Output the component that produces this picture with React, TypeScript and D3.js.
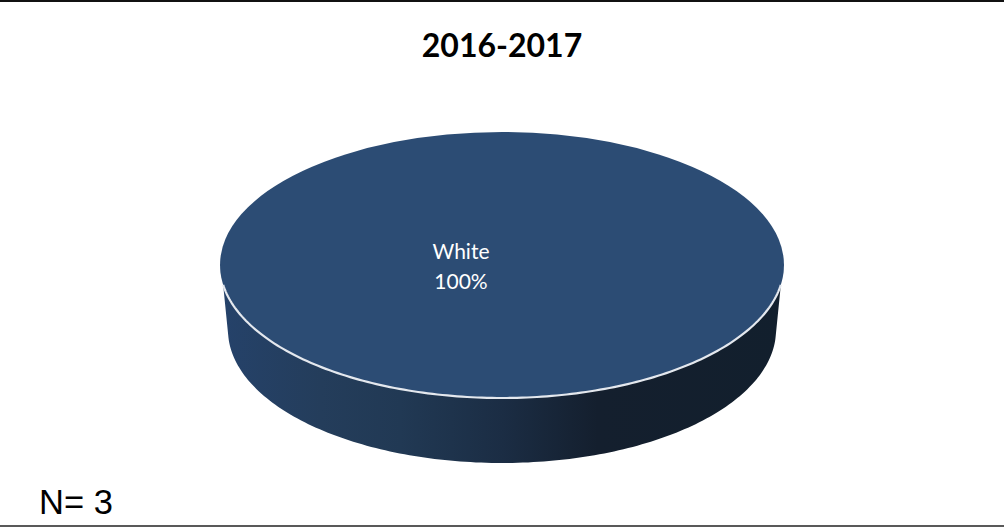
import React from "react";
import * as d3 from "d3";

const categories = ["White"];
const values = [100];
const percentLabels = ["100%"];
const titleText = "2016-2017";
const noteText = "N= 3";
const sideStops = [
  { at: 0, color: "#25426a" },
  { at: 0.18, color: "#243d5b" },
  { at: 0.32, color: "#213954" },
  { at: 0.5, color: "#1b2d44" },
  { at: 0.67, color: "#141f2e" },
  { at: 1, color: "#121f2d" },
];

const W = 1004;
const H = 528;
const CX = 502;
const TOP_CY = 265;
const BOT_CY = 330;
const RX = 282;
const RX_BOT = 274;
const RY = 133;

export default function App() {
  const slices = d3.pie<number>().sort(null)(values);
  // unit-radius pie arc, squashed to the tilted ellipse
  const arc = d3.arc<d3.PieArcDatum<number>>().innerRadius(0).outerRadius(1);
  const topPath = arc(slices[0]) ?? "";

  // front wall of the disc: the visible lower half between both ellipses
  const x = d3.scaleLinear().domain([-1, 1]).range([CX - RX, CX + RX]);
  const y = d3.scaleLinear().domain([-1, 1]).range([TOP_CY - RY, TOP_CY + RY]);
  const xb = d3.scaleLinear().domain([-1, 1]).range([CX - RX_BOT, CX + RX_BOT]);
  const yb = d3.scaleLinear().domain([-1, 1]).range([BOT_CY - RY, BOT_CY + RY]);
  const line = d3.line<[number, number]>();
  const start = 0.15;
  const end = Math.PI - 0.15;
  const rimAngles = d3.range(start, end + 0.001, (end - start) / 160);
  const topEdge: [number, number][] = rimAngles.map((a) => [x(Math.cos(a)), y(Math.sin(a))]);
  const botAngles = d3.range(0.04, Math.PI - 0.04 + 0.001, (Math.PI - 0.08) / 160);
  const botEdge: [number, number][] = botAngles.slice().reverse().map((a) => [xb(Math.cos(a)), yb(Math.sin(a))]);
  const sidePath = line([...topEdge, ...botEdge]) + "Z";
  const rimPath = line(topEdge) ?? "";

  return (
    <svg
      width={W}
      height={H}
      viewBox={`0 0 ${W} ${H}`}
      style={{ position: "absolute", left: 0, top: 0, background: "#fff" }}
    >
      <defs>
        <linearGradient id="side" gradientUnits="userSpaceOnUse" x1={CX - RX} x2={CX + RX} y1={0} y2={0}>
          {sideStops.map((s) => (
            <stop key={s.at} offset={s.at} stopColor={s.color} />
          ))}
        </linearGradient>
      </defs>
      <rect x={0} y={0} width={W} height={H} fill="#fff" />
      <line x1={0} x2={W} y1={1} y2={1} stroke="#111" strokeWidth={2} />
      <line x1={0} x2={W} y1={526} y2={526} stroke="#222" strokeWidth={1.6} />

      <text x={502} y={57} textAnchor="middle" fontFamily="Lato, 'Open Sans', sans-serif" fontWeight={700} fontSize={32} fill="#000">
        {titleText}
      </text>

      <path d={sidePath} fill="url(#side)" />
      <path
        d={topPath}
        transform={`translate(${CX},${TOP_CY}) scale(${RX},${RY})`}
        fill="#2c4c74"
      />
      <path d={rimPath} fill="none" stroke="#e4e8ee" strokeWidth={2.2} />

      <text textAnchor="middle" fontFamily="Lato, 'Open Sans', sans-serif" fontSize={21} fill="#fff">
        <tspan x={461} y={259}>{categories[0]}</tspan>
        <tspan x={461} y={289}>{percentLabels[0]}</tspan>
      </text>

      <text x={39} y={514} fontFamily="'Liberation Sans', Arial, sans-serif" fontSize={34.5} fill="#000">
        {noteText}
      </text>
    </svg>
  );
}
